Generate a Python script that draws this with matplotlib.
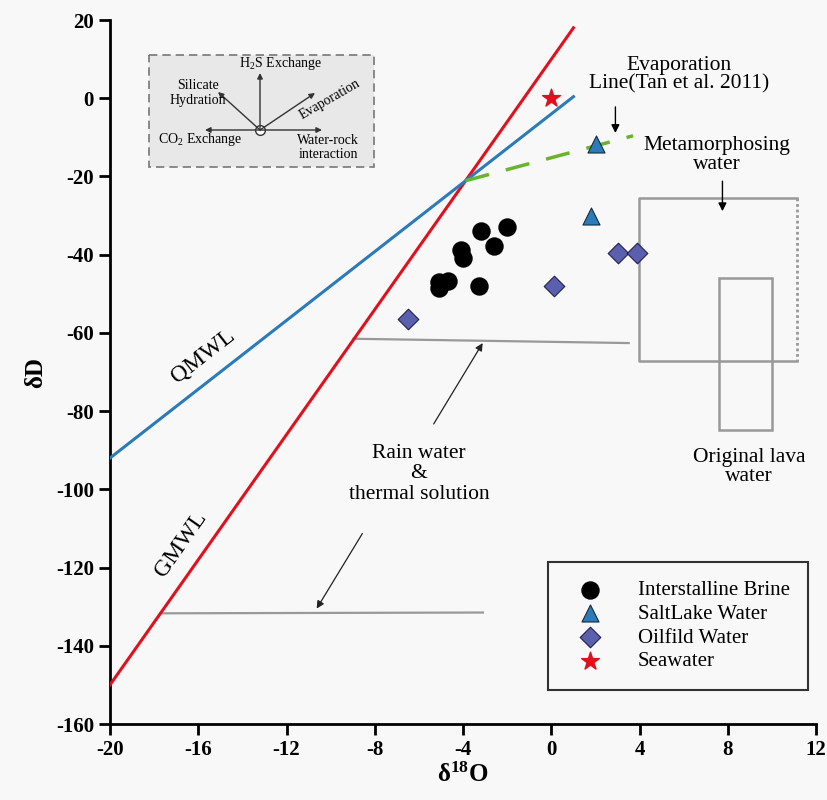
import matplotlib.pyplot as plt
from matplotlib.patches import Rectangle

plt.rcParams['font.family'] = ['Liberation Serif', 'DejaVu Serif']
plt.rcParams['axes.unicode_minus'] = False
plt.rcParams['mathtext.fontset'] = 'custom'
plt.rcParams['mathtext.rm'] = 'Liberation Serif'
plt.rcParams['mathtext.bf'] = 'Liberation Serif:bold'

# sample data (d18O, dD)
brine_x = [-3.2, -2.0, -2.6, -4.1, -4.0, -5.1, -4.7, -5.1, -3.3]
brine_y = [-33.9, -33.0, -37.9, -38.9, -40.9, -47.1, -46.8, -48.5, -47.9]
salt_x = [2.0, 1.8]
salt_y = [-11.7, -30.2]
oil_x = [-6.5, 0.1, 3.0, 3.9]
oil_y = [-56.4, -47.9, -39.6, -39.6]
sea_x = [0.0]
sea_y = [0.0]

# reference lines
gmwl_x = [-20, 1]
gmwl_y = [-150, 18]
qmwl_x = [-20, 1]
qmwl_y = [-92, 0.4]
evap_x = [-3.89, 3.7]
evap_y = [-21.1, -9.6]

# rain water / thermal solution ranges
rain_upper_x = [-8.97, 3.5]
rain_upper_y = [-61.5, -62.6]
rain_lower_x = [-17.7, -3.1]
rain_lower_y = [-131.7, -131.5]

fig = plt.figure(figsize=(8.27, 8.0), dpi=100)
fig.patch.set_facecolor('#f8f8f8')
ax = fig.add_axes([0.133, 0.095, 0.854, 0.88])
ax.set_facecolor('#f8f8f8')

ax.plot(gmwl_x, gmwl_y, color='#e0101c', lw=2.2, zorder=3)
ax.plot(qmwl_x, qmwl_y, color='#2b7bbb', lw=2.2, zorder=3)
ax.plot(evap_x, evap_y, color='#6ab42d', lw=2.5, dashes=(7, 5), zorder=3)
ax.plot(rain_upper_x, rain_upper_y, color='#999999', lw=1.6, zorder=2)
ax.plot(rain_lower_x, rain_lower_y, color='#999999', lw=1.6, zorder=2)

# metamorphosing water box (right edge dotted)
ax.plot([11.15, 3.95, 3.95, 11.15], [-25.5, -25.5, -67.3, -67.3], color='#999999', lw=1.8)
ax.plot([11.15, 11.15], [-25.5, -67.3], color='#999999', lw=2.0, ls=(0, (1, 1)))
# original lava water box
ax.add_patch(Rectangle((7.6, -84.9), 2.4, 38.9, fill=False, ec='#999999', lw=1.8))

ax.scatter(brine_x, brine_y, s=150, c='black', marker='o', zorder=5,
           label='Interstalline Brine')
ax.scatter(salt_x, salt_y, s=150, c='#2b7bbb', marker='^', edgecolors='#1a2a3a',
           linewidths=0.8, zorder=5, label='SaltLake Water')
ax.scatter(oil_x, oil_y, s=110, c='#5a5fae', marker='D', edgecolors='#202050',
           linewidths=0.8, zorder=5, label='Oilfild Water')
ax.scatter(sea_x, sea_y, s=180, c='#e0101c', marker='*', zorder=5, label='Seawater')

# labels on lines
ax.text(-15.8, -66.0, 'QMWL', rotation=38, fontsize=17, ha='center', va='center')
ax.text(-16.8, -114.1, 'GMWL', rotation=55, fontsize=17, ha='center', va='center')

ax.text(5.8, 6.0, 'Evaporation\nLine(Tan et al. 2011)', fontsize=15.5, ha='center',
        va='center', linespacing=1.0)
ax.annotate('', xy=(2.9, -9.6), xytext=(2.9, -1.5),
            arrowprops=dict(arrowstyle='-|>', color='black', lw=1, mutation_scale=12))

ax.text(7.5, -14.4, 'Metamorphosing\nwater', fontsize=15.5, ha='center', va='center',
        linespacing=1.0)
ax.annotate('', xy=(7.75, -29.6), xytext=(7.75, -20.5),
            arrowprops=dict(arrowstyle='-|>', color='black', lw=1, mutation_scale=12))

ax.text(8.95, -94.2, 'Original lava\nwater', fontsize=15.5, ha='center', va='center',
        linespacing=1.0)

ax.text(-6.0, -96.0, 'Rain water\n&\nthermal solution', fontsize=15.5, ha='center',
        va='center', linespacing=1.1)
ax.annotate('', xy=(-3.05, -62.0), xytext=(-5.4, -83.9),
            arrowprops=dict(arrowstyle='-|>', color='#222222', lw=0.9, mutation_scale=11))
ax.annotate('', xy=(-10.7, -131.1), xytext=(-8.5, -110.7),
            arrowprops=dict(arrowstyle='-|>', color='#222222', lw=0.9, mutation_scale=11))

ax.set_xlim(-20, 12)
ax.set_ylim(-160, 20)
ax.set_xticks(range(-20, 13, 4))
ax.set_yticks(range(-160, 21, 20))
for s in ['top', 'right']:
    ax.spines[s].set_visible(False)
for s in ['left', 'bottom']:
    ax.spines[s].set_linewidth(2)
ax.tick_params(width=2, length=8, labelsize=15)
for lab in ax.get_xticklabels() + ax.get_yticklabels():
    lab.set_fontweight('bold')
ax.set_xlabel(r'$\mathbf{\delta^{18}O}$', fontsize=18, labelpad=2)
ax.set_ylabel('δD', fontsize=18, fontweight='bold', labelpad=6)

leg = ax.legend(loc='lower right', bbox_to_anchor=(0.989, 0.048), fontsize=15,
                frameon=True, fancybox=False, edgecolor='black', facecolor='#f8f8f8',
                borderpad=0.9, handletextpad=1.2, labelspacing=0.2, scatterpoints=1,
                borderaxespad=0, handlelength=2.2)
leg.get_frame().set_linewidth(1.5)

# inset sketch of isotope processes
ins = fig.add_axes([148 / 827, 1 - 168 / 800, 227 / 827, 114 / 800])
ins.set_xlim(0, 227)
ins.set_ylim(114, 0)
ins.axis('off')
ins.add_patch(Rectangle((1, 1), 225, 112, fc='#e8e8e8', ec='#777777', lw=1.2,
                        ls=(0, (5, 3))))
cx, cy = 112, 76
arrow_ends = [(112, 19), (57, 76), (174, 76), (70, 38), (167, 39)]
for ex, ey in arrow_ends:
    ins.annotate('', xy=(ex, ey), xytext=(cx, cy),
                 arrowprops=dict(arrowstyle='-|>', color='#333333', lw=1, mutation_scale=8,
                                 shrinkA=0, shrinkB=0))
ins.plot([cx], [cy], 'o', ms=7, mfc='white', mec='#333333', mew=1)
ins.text(132, 10, 'H$_2$S Exchange', fontsize=10, ha='center', va='center')
ins.text(50, 39, 'Silicate\nHydration', fontsize=10, ha='center', va='center',
         linespacing=1.2)
ins.text(182, 45, 'Evaporation', fontsize=10, ha='center', va='center', rotation=30)
ins.text(52, 86, 'CO$_2$ Exchange', fontsize=10, ha='center', va='center')
ins.text(180, 94, 'Water-rock\ninteraction', fontsize=10, ha='center', va='center',
         linespacing=1.1)

fig.savefig('out.png', dpi=100, facecolor=fig.get_facecolor())
